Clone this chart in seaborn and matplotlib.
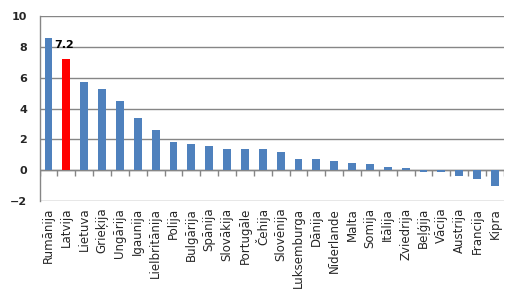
import matplotlib
matplotlib.use("Agg")
import matplotlib.pyplot as plt
import seaborn as sns
import pandas as pd

countries = ["Rumānija", "Latvija", "Lietuva", "Grieķija", "Ungārija", "Igaunija",
             "Lielbritānija", "Polija", "Bulgārija", "Spānija", "Slovākija", "Portugāle",
             "Čehija", "Slovēnija", "Luksemburga", "Dānija", "Nīderlande", "Malta",
             "Somija", "Itālija", "Zviedrija", "Beļģija", "Vācija", "Austrija",
             "Francija", "Kipra"]
values = [8.6, 7.2, 5.7, 5.3, 4.5, 3.4, 2.6, 1.85, 1.7, 1.55, 1.4, 1.4,
          1.35, 1.2, 0.75, 0.75, 0.6, 0.45, 0.4, 0.2, 0.15, -0.1, -0.15, -0.35,
          -0.55, -1.0]
highlight = "Latvija"

df = pd.DataFrame({"country": countries, "value": values})
df["grp"] = ["hl" if c == highlight else "base" for c in countries]

sns.set_style("white")
plt.rcParams["font.family"] = ["DejaVu Sans"]

fig = plt.figure(figsize=(5.2, 2.99), dpi=100)
ax = fig.add_axes([0.076, 0.328, 0.893, 0.618])

sns.barplot(data=df, x="country", y="value", hue="grp",
            palette={"base": "#4F81BD", "hl": "#FF0000"},
            dodge=False, width=0.44, legend=False, ax=ax, zorder=3,
            linewidth=0, saturation=1)

n = len(countries)
ax.set_xlim(-0.5, n - 0.5)
ax.set_ylim(-2, 10)
ax.set_yticks(range(-2, 11, 2))
ax.yaxis.grid(True, color="#868686", linewidth=1.0, zorder=0)
ax.set_axisbelow(True)

# zero axis with category boundary ticks
ax.axhline(0, color="#868686", linewidth=1.0, zorder=2)
ax.vlines([i + 0.5 for i in range(-1, n)], -0.35, 0, color="#868686",
          linewidth=1.0, zorder=2)

for s in ["top", "right", "bottom"]:
    ax.spines[s].set_visible(False)
ax.spines["left"].set_color("#868686")
ax.spines["left"].set_linewidth(1.0)

ax.tick_params(axis="y", length=6, color="#868686", width=1.0, pad=3,
               labelsize=8)
for lab in ax.get_yticklabels():
    lab.set_fontweight("bold")
ax.tick_params(axis="x", length=0, pad=5, labelsize=8.5, rotation=90)
ax.set_xlabel("")
ax.set_ylabel("")

hi = countries.index(highlight)
ax.text(hi - 0.1, values[hi] + 0.6, f"{values[hi]}", ha="center", va="bottom",
        fontsize=8, fontweight="bold", color="#000000", zorder=4)

fig.savefig("out.png", dpi=100)
